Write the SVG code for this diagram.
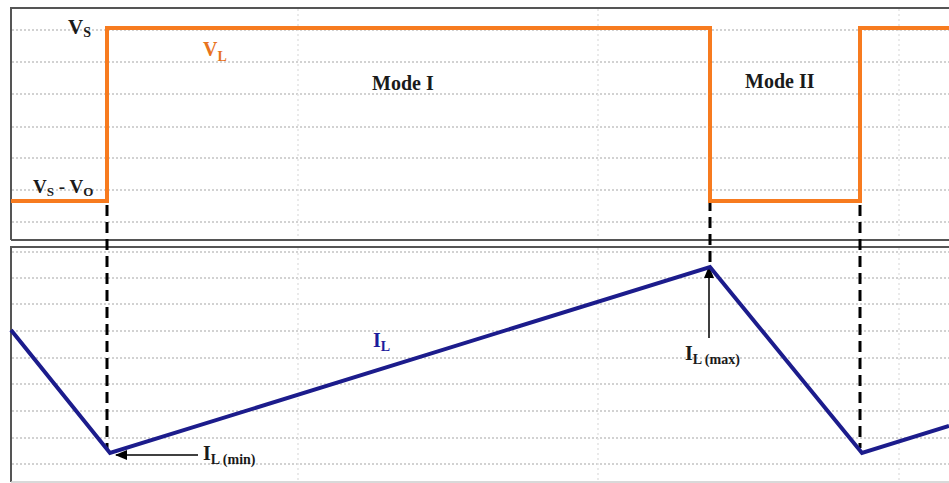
<svg xmlns="http://www.w3.org/2000/svg" width="949" height="483" viewBox="0 0 949 483">
<style>
.grid{stroke:#c4c4c4;stroke-width:1.4;stroke-dasharray:2 2;fill:none}
.vgrid{stroke:#e2e2e2;stroke-width:1.4;stroke-dasharray:2 3;fill:none}
.frame{stroke:#555;stroke-width:2;fill:none}
.t{font-family:"Liberation Serif","Times New Roman",serif;font-weight:bold}
.dash{stroke:#000;stroke-width:3;stroke-dasharray:11 6;fill:none}
.ptr{stroke:#000;stroke-width:1.5;fill:none;marker-end:url(#ah)}
</style>
<defs>
<marker id="ah" markerWidth="12" markerHeight="10" refX="11" refY="5" orient="auto" markerUnits="userSpaceOnUse">
<path d="M0,0 L12,5 L0,10 Z" fill="#000"/>
</marker>
</defs>
<rect width="949" height="483" fill="#fff"/>
<g id="top-panel">
<path class="grid" d="M12,30H949M12,62H949M12,94H949M12,127H949M12,158H949M12,190H949M12,222H949"/>
<path class="vgrid" d="M298,9V239M598,9V239M899,9V239"/>
<path class="frame" d="M11,240V8H949"/>
<path d="M11,240H949" stroke="#555" stroke-width="2"/>
</g>
<g id="bottom-panel">
<path class="grid" d="M12,252H949M12,278H949M12,304H949M12,331H949M12,358H949M12,384H949M12,411H949M12,438H949M12,464H949"/>
<path class="vgrid" d="M298,248V481M598,248V481M899,248V481"/>
<path class="frame" d="M11,482V247H949"/>
<path d="M11,482H949" stroke="#ccc" stroke-width="1.5"/>
</g>
<g id="connectors">
<path class="dash" d="M107,205V450"/>
<path class="dash" d="M710,200V262"/>
<path class="dash" d="M860,205V448"/>
<path class="ptr" d="M198,455H116"/>
<path class="ptr" d="M709,338V267"/>
</g>
<g id="VL-wave">
<path d="M11,201H107V28H710V201H860V28H949" stroke="#f77b1f" stroke-width="4" fill="none"/>
</g>
<g id="IL-wave">
<path d="M11,330L110,453L710,267L862,453L949,426" stroke="#1c1c8c" stroke-width="4" fill="none" stroke-linejoin="miter"/>
</g>
<g id="labels">
<text class="t" x="68" y="34" font-size="21" fill="#1a1a1a">V<tspan font-size="14" dy="3">S</tspan></text>
<text class="t" x="203" y="56" font-size="20" fill="#e8731e">V<tspan font-size="14" dy="5">L</tspan></text>
<text class="t" x="33" y="193" font-size="19" fill="#1a1a1a">V<tspan font-size="13" dy="3">S</tspan><tspan dy="-3"> - V</tspan><tspan font-size="13" dy="3">O</tspan></text>
<text class="t" x="372" y="90" font-size="20" fill="#1a1a1a">Mode I</text>
<text class="t" x="745" y="88" font-size="20" fill="#1a1a1a">Mode II</text>
<text class="t" x="373" y="347" font-size="20" fill="#1c1c9c">I<tspan font-size="14" dy="4">L</tspan></text>
<text class="t" x="203" y="460" font-size="20" fill="#1a1a1a">I<tspan font-size="14" dy="4">L (min)</tspan></text>
<text class="t" x="685" y="360" font-size="20" fill="#1a1a1a">I<tspan font-size="14" dy="4">L (max)</tspan></text>
</g>
</svg>
